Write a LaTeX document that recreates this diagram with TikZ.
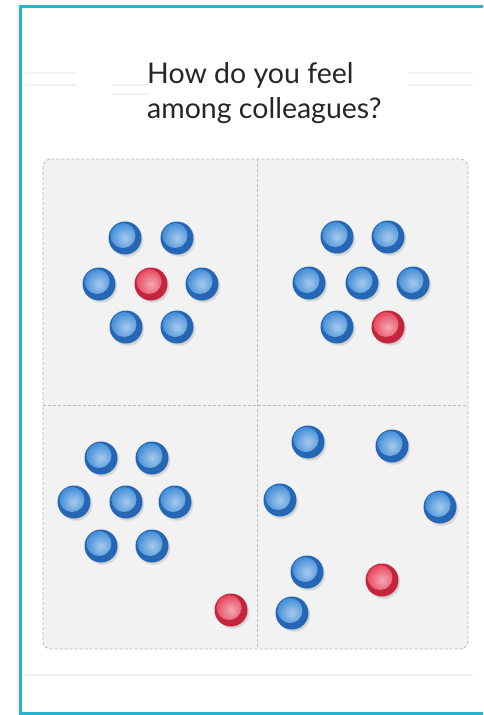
\documentclass[tikz,border=0pt]{standalone}
\usepackage{fontspec}
\setmainfont{Lato}
\usepackage{xcolor}
\usepackage{tikz}
\usetikzlibrary{positioning, shadows, calc}

\definecolor{framecyan}{HTML}{29B3CE}
\definecolor{panelbg}{HTML}{F2F2F2}
\definecolor{beadblue}{HTML}{2567B5}
\definecolor{beadbluelt}{HTML}{3B89D6}
\definecolor{beadred}{HTML}{C4253C}
\definecolor{beadredlt}{HTML}{E63F57}

\begin{document}
\begin{tikzpicture}[x=1pt, y=-1pt,
  bead/.style={circle, minimum size=33pt, inner sep=0pt,
    circular drop shadow={shadow xshift=1.5pt, shadow yshift=-2pt, opacity=0.3, shadow scale=1.04}},
  bluebead/.style={bead, fill=beadblue, path picture={
    \shade[inner color=beadbluelt!45!white, outer color=beadbluelt]
      ([shift={(-2,-2.5)}]path picture bounding box.center) circle (12.5pt);}},
  redbead/.style={bead, fill=beadred, path picture={
    \shade[inner color=beadredlt!45!white, outer color=beadredlt]
      ([shift={(-2,-2.5)}]path picture bounding box.center) circle (12.5pt);}},
  panelline/.style={gray!55, dash pattern=on 3pt off 2pt, line width=0.8pt},
  faint/.style={gray!10, line width=1.2pt},
  question/.style={anchor=base west, inner sep=0pt, text=black!85, font=\fontsize{28.5}{34}\selectfont}]
\useasboundingbox (0,0) rectangle (483,715);
\fill[white] (0,0) rectangle (483,715);

\draw[framecyan, line width=3pt] (483,6.5) -- (20.5,6.5) -- (20.5,713) -- (483,713);

\draw[faint] (25,73) -- (77,73);
\draw[faint] (25,85) -- (77,85);
\draw[faint] (112,85) -- (147,85);
\draw[faint] (112,94) -- (147,94);
\draw[faint] (408,73) -- (473,73);
\draw[faint] (408,85) -- (473,85);

\node[question] (q1) at (147,83) {How do you feel};
\node[question] (q2) at (147,118) {among colleagues?};

\draw[panelline, fill=panelbg, rounded corners=8pt] (43,159) rectangle (468,649);
\draw[panelline] (257,159) -- (257,649);
\draw[panelline] (43,405) -- (468,405);

\node[bluebead] (a1) at (125,238) {};
\node[bluebead] (a2) at (177,238) {};
\node[bluebead] (a3) at (99,284) {};
\node[redbead]  (a4) at (151,284) {};
\node[bluebead] (a5) at (202,284) {};
\node[bluebead] (a6) at (126,327) {};
\node[bluebead] (a7) at (177,327) {};

\node[bluebead] (b1) at (337,237) {};
\node[bluebead] (b2) at (388,237) {};
\node[bluebead] (b3) at (309,283) {};
\node[bluebead] (b4) at (362,283) {};
\node[bluebead] (b5) at (413,283) {};
\node[bluebead] (b6) at (337,327) {};
\node[redbead]  (b7) at (388,327) {};

\node[bluebead] (c1) at (101,458) {};
\node[bluebead] (c2) at (152,458) {};
\node[bluebead] (c3) at (74,502) {};
\node[bluebead] (c4) at (126,502) {};
\node[bluebead] (c5) at (175,502) {};
\node[bluebead] (c6) at (101,546) {};
\node[bluebead] (c7) at (152,546) {};
\node[redbead]  (c8) at (231,610) {};

\node[bluebead] (d1) at (308,442) {};
\node[bluebead] (d2) at (392,446) {};
\node[bluebead] (d3) at (280,500) {};
\node[bluebead] (d4) at (440,507) {};
\node[bluebead] (d5) at (307,572) {};
\node[redbead]  (d6) at (382,580) {};
\node[bluebead] (d7) at (292,613) {};

\draw[gray!12, line width=2pt] (25,675) -- (473,675);
\end{tikzpicture}
\end{document}
